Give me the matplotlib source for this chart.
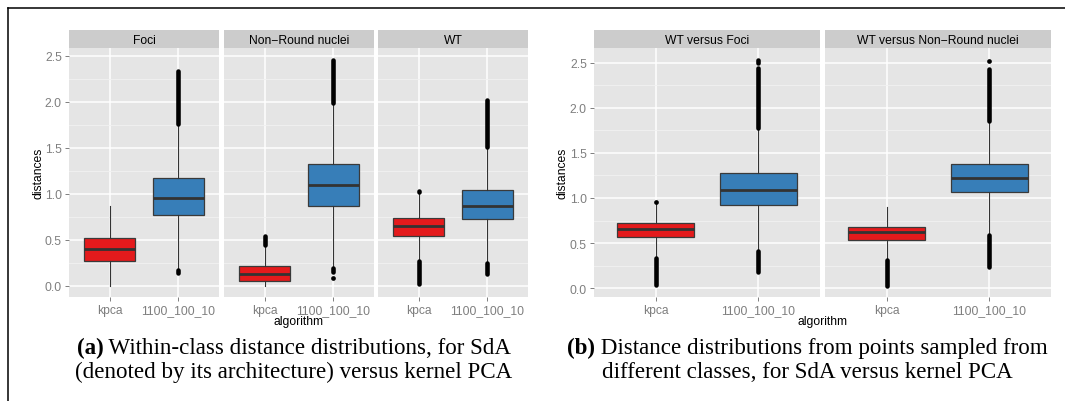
import matplotlib
matplotlib.use("Agg")
import matplotlib.pyplot as plt
from matplotlib.lines import Line2D
from matplotlib.ticker import FixedLocator, FormatStrFormatter

# --- data ---
algorithms = ["kpca", "1100_100_10"]

left_facets = ["Foci", "Non\u2212Round nuclei", "WT"]
left_q1 = [[0.268, 0.772], [0.054, 0.866], [0.543, 0.722]]
left_med = [[0.400, 0.957], [0.124, 1.091], [0.646, 0.870]]
left_q3 = [[0.518, 1.167], [0.210, 1.323], [0.733, 1.037]]
left_whislo = [[0.0, 0.18], [0.0, 0.19], [0.27, 0.25]]
left_whishi = [[0.87, 1.75], [0.44, 1.99], [1.00, 1.50]]
# outlier clusters (range of point centres) per facet, per algorithm
left_clusters = [
    [[], [(0.14, 0.17), (1.76, 2.33)]],
    [[(0.44, 0.54)], [(0.145, 0.19), (1.99, 2.45)]],
    [[(0.02, 0.27), (1.015, 1.03)], [(0.13, 0.25), (1.51, 2.02)]],
]
left_singles = [[[], []], [[], [0.08]], [[], []]]

right_facets = ["WT versus Foci", "WT versus Non\u2212Round nuclei"]
right_q1 = [[0.567, 0.922], [0.538, 1.063]]
right_med = [[0.652, 1.092], [0.627, 1.219]]
right_q3 = [[0.722, 1.274], [0.682, 1.382]]
right_whislo = [[0.34, 0.41], [0.33, 0.60]]
right_whishi = [[0.94, 1.79], [0.904, 1.85]]
right_clusters = [
    [[(0.04, 0.34)], [(0.185, 0.41), (1.78, 2.44), (2.50, 2.53)]],
    [[(0.025, 0.315)], [(0.235, 0.59), (1.855, 2.43)]],
]
right_singles = [[[0.96], []], [[], [2.52]]]

caption_a = ("(a)", " Within-class distance distributions, for SdA",
             "(denoted by its architecture) versus kernel PCA")
caption_b = ("(b)", " Distance distributions from points sampled from",
             "different classes, for SdA versus kernel PCA")

# --- layout (pixels) ---
W, H = 1065, 402
fills = ["#E41A1C", "#377EB8"]
SANS = "Liberation Sans"
SERIF = "Liberation Serif"
FS = 8.7

fig = plt.figure(figsize=(W / 100, H / 100), dpi=100)


def rect(x0, y0, x1, y1):
    return [x0 / W, 1 - y1 / H, (x1 - x0) / W, (y1 - y0) / H]


def draw_facet(x0, x1, title, q1, med, q3, wlo, whi, clusters, singles, ylim, first):
    ax = fig.add_axes(rect(x0, 49, x1, 298))
    ax.set_facecolor("#E5E5E5")
    ax.set_axisbelow(True)
    for s in ax.spines.values():
        s.set_visible(False)

    stats = [dict(med=med[j], q1=q1[j], q3=q3[j], whislo=wlo[j], whishi=whi[j], fliers=[])
             for j in range(len(algorithms))]
    bp = ax.bxp(stats, positions=[1, 2], widths=0.75, patch_artist=True,
                showcaps=False, showfliers=False,
                boxprops=dict(edgecolor="#3a3a3a", linewidth=0.9),
                medianprops=dict(color="#333333", linewidth=2.0),
                whiskerprops=dict(color="#333333", linewidth=0.8))
    for patch, c in zip(bp["boxes"], fills):
        patch.set_facecolor(c)

    for j in range(len(algorithms)):
        for lo, hi in clusters[j]:
            ax.vlines(j + 1, lo, hi, colors="black", linewidth=3.3, capstyle="round", zorder=3)
        if singles[j]:
            ax.plot([j + 1] * len(singles[j]), singles[j], "o", color="black", ms=3.4,
                    mec="none", zorder=3)

    ax.set_xlim(0.4, 2.6)
    ax.set_ylim(*ylim)
    ax.xaxis.set_major_locator(FixedLocator([1, 2]))
    ax.set_xticklabels(algorithms)
    ax.yaxis.set_major_locator(FixedLocator([0, 0.5, 1.0, 1.5, 2.0, 2.5]))
    ax.yaxis.set_minor_locator(FixedLocator([0.25, 0.75, 1.25, 1.75, 2.25]))
    ax.yaxis.set_major_formatter(FormatStrFormatter("%.1f"))
    ax.grid(which="major", color="white", linewidth=1.1)
    ax.grid(which="minor", axis="y", color="#F2F2F2", linewidth=0.6)
    ax.tick_params(which="minor", length=0)
    ax.tick_params(which="major", length=2.6, width=0.7, color="#7F7F7F", pad=2.5,
                   labelsize=FS, labelcolor="#7F7F7F")
    for lab in ax.get_xticklabels() + ax.get_yticklabels():
        lab.set_fontfamily(SANS)
    if not first:
        ax.tick_params(axis="y", length=0, labelleft=False)

    strip = fig.add_axes(rect(x0, 31, x1, 49))
    strip.set_facecolor("#CCCCCC")
    strip.set_xticks([])
    strip.set_yticks([])
    for s in strip.spines.values():
        s.set_visible(False)
    strip.text(0.5, 0.45, title, ha="center", va="center", fontsize=FS, family=SANS)
    return ax


left_px = [(69, 219), (224, 374), (378, 528)]
right_px = [(594, 820), (825, 1051)]

for i, (x0, x1) in enumerate(left_px):
    draw_facet(x0, x1, left_facets[i], left_q1[i], left_med[i], left_q3[i],
               left_whislo[i], left_whishi[i], left_clusters[i], left_singles[i],
               (-0.123, 2.584), i == 0)

for i, (x0, x1) in enumerate(right_px):
    draw_facet(x0, x1, right_facets[i], right_q1[i], right_med[i], right_q3[i],
               right_whislo[i], right_whishi[i], right_clusters[i], right_singles[i],
               (-0.097, 2.662), i == 0)

# axis titles
fig.text(38 / W, 1 - 173.5 / H, "distances", rotation=90, ha="center", va="center",
         fontsize=FS, family=SANS)
fig.text(563 / W, 1 - 173.5 / H, "distances", rotation=90, ha="center", va="center",
         fontsize=FS, family=SANS)
fig.text(298.5 / W, 1 - 322 / H, "algorithm", ha="center", va="center", fontsize=FS, family=SANS)
fig.text(822.5 / W, 1 - 322 / H, "algorithm", ha="center", va="center", fontsize=FS, family=SANS)

# captions
renderer = fig.canvas.get_renderer()


def caption(cx, lines, size=16.6):
    tag, rest, second = lines
    y1 = 1 - 354 / H
    t1 = fig.text(0, y1, tag, fontsize=size, family=SERIF, weight="bold", va="baseline")
    t2 = fig.text(0, y1, rest, fontsize=size, family=SERIF, va="baseline")
    w1 = t1.get_window_extent(renderer).width
    w2 = t2.get_window_extent(renderer).width
    start = cx - (w1 + w2) / 2
    t1.set_x(start / W)
    t2.set_x((start + w1) / W)
    fig.text(cx / W, 1 - 378 / H, second, fontsize=size, family=SERIF, ha="center", va="baseline")


caption(294, caption_a)
caption(807, caption_b)

# frame lines at the top and left
fig.add_artist(Line2D([8 / W, 1], [1 - 9.3 / H] * 2, color="black", linewidth=1.1))
fig.add_artist(Line2D([8 / W] * 2, [0, 1 - 9.3 / H], color="black", linewidth=1.1))

fig.savefig("out.png", dpi=100)
